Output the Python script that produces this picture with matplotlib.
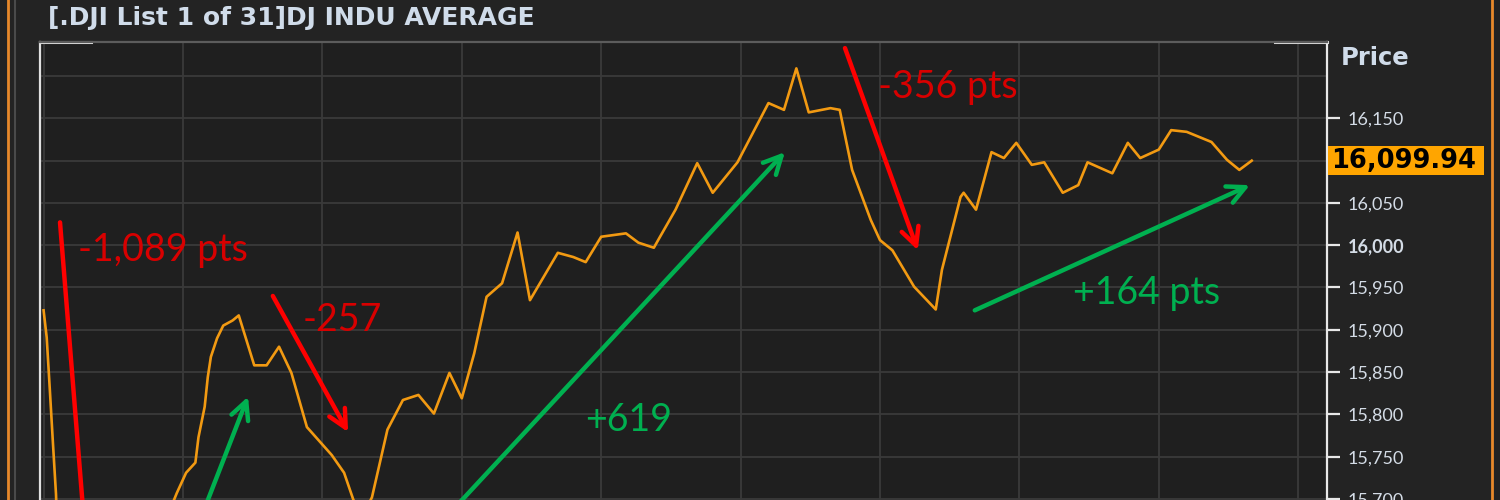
import numpy as np
import matplotlib.pyplot as plt
from matplotlib.patches import Rectangle
from matplotlib.transforms import blended_transform_factory

## minutes after the open (9:30) and index level
minutes = [0, 1, 2, 3, 4, 5, 6, 7, 8, 10, 13, 16, 20, 25, 30, 35, 40,
           43, 46, 49, 50, 52, 53, 54, 56, 58, 61, 63, 68, 72, 76, 80, 85,
           93, 97, 100, 103, 106, 111, 116, 121, 126, 131, 135, 139, 143,
           148, 153, 157, 166, 171, 175, 180, 188, 192, 197, 199, 204, 211,
           216, 224, 234, 239, 243, 247, 254, 257, 261, 267, 270, 274, 281,
           288, 290, 296, 297, 301, 306, 310, 314, 319, 323, 329, 334, 337,
           345, 350, 354, 360, 364, 369, 377, 382, 386, 390]
price = [15923, 15891, 15830, 15767, 15706, 15600, 15480, 15400, 15370,
         15420, 15470, 15440, 15520, 15560, 15600, 15640, 15680,
         15707, 15731, 15743, 15773, 15809, 15844, 15868, 15890, 15905,
         15911, 15917, 15858, 15858, 15880, 15849, 15785,
         15752, 15731, 15699, 15680, 15702, 15782, 15817, 15823, 15801,
         15849, 15819, 15872, 15939,
         15955, 16015, 15935, 15991, 15986, 15980, 16010, 16014, 16003,
         15997, 16010, 16042, 16097,
         16062, 16098, 16168, 16160, 16209, 16157, 16162, 16160, 16089,
         16030, 16006, 15994, 15951,
         15924, 15971, 16057, 16062, 16042, 16110, 16103, 16121, 16095,
         16098, 16062, 16071, 16098,
         16085, 16121, 16103, 16113, 16136, 16134, 16122, 16101, 16089,
         16099.94]
last_price = 16099.94

price_ticks = [15700, 15750, 15800, 15850, 15900, 15950, 16000, 16050,
               16100, 16150, 16200]
hidden_labels = [16100, 16200]
grid_minutes = [0, 45, 90, 135, 180, 225, 270, 315, 360, 405]

## move annotations: label, colour, arrow tail, arrow head, text anchor
moves = [
    ("-1,089 pts", 'red', (5.3, 16027), (15.6, 15557), (11.1, 15994)),
    ("", 'green', (50.5, 15675), (66.0, 15821), None),
    ("-257", 'red', (74.0, 15940), (98.3, 15779), (83.7, 15912)),
    ("+619", 'green', (126.0, 15663), (239.3, 16110), (174.7, 15793)),
    ("-356 pts", 'red', (258.7, 16233), (282.2, 15994), (269.3, 16187)),
    ("+164 pts", 'green', (300.6, 15923), (389.4, 16071), (332.3, 15944)),
]
arrow_colors = {'red': '#ff0000', 'green': '#00b050'}
text_colors = {'red': '#d80000', 'green': '#00b050'}

plt.rcParams['font.family'] = ['Lato', 'DejaVu Sans']
HEAD_FONT = ['DejaVu Sans']

W, H = 1500, 500
fig = plt.figure(figsize=(15, 5), dpi=100, facecolor='#232323')
ax = fig.add_axes([40 / W, 0, 1287 / W, 458 / H])
ax.set_facecolor('#1f1f1f')
ax.set_xlim(-1.16, 414.3)
ax.set_ylim(15698.8, 16240.2)

## grid
ax.set_xticks(grid_minutes)
ax.set_yticks(price_ticks)
ax.grid(True, color='#3a3a3a', lw=1.3)
ax.set_axisbelow(True)
ax.tick_params(axis='x', length=0, labelbottom=False)
ax.yaxis.tick_right()
ax.tick_params(axis='y', length=9, width=1.6, color='#e8e8e8', pad=6,
               labelsize=13, labelcolor='#d4dce6')
labels = []
for v in price_ticks:
    labels.append('' if v in hidden_labels else f'{v:,}')
ax.set_yticklabels(labels)
for tick, v in zip(ax.yaxis.get_major_ticks(), price_ticks):
    if v == 16200:
        tick.tick2line.set_visible(False)
    if v == 16000:
        tick.label2.set_fontweight('bold')

## frame
ax.spines['bottom'].set_visible(False)
ax.spines['left'].set_color('#e0e0e0')
ax.spines['right'].set_color('#e8e8e8')
ax.spines['left'].set_linewidth(1.6)
ax.spines['right'].set_linewidth(1.6)
ax.spines['top'].set_color('#5c5c5c')
ax.spines['top'].set_linewidth(1.6)
ax.plot([0, 51 / 1287], [1, 1], color='#e0e0e0', lw=2.2,
        transform=ax.transAxes, clip_on=False)
ax.plot([1 - 52 / 1287, 1], [1, 1], color='#e0e0e0', lw=2.2,
        transform=ax.transAxes, clip_on=False)

## price line
ax.plot(minutes, price, color='#f29a12', lw=1.9, zorder=3)

## arrows and move labels
for text, col, tail, head, anchor in moves:
    ax.annotate('', xy=head, xytext=tail, annotation_clip=False,
                arrowprops=dict(arrowstyle='->', color=arrow_colors[col],
                                lw=3.2, mutation_scale=32,
                                shrinkA=0, shrinkB=0), zorder=4)
    if anchor is not None:
        ax.text(anchor[0], anchor[1], text, color=text_colors[col],
                fontsize=27, ha='left', va='center', zorder=5)

## last price marker
blend = blended_transform_factory(fig.transFigure, ax.transData)
fig.patches.append(Rectangle((1328 / W, last_price - 17), 156 / W, 34,
                             transform=blend, fc='#ffa500', ec='none',
                             zorder=5))
fig.text(1331 / W, last_price, f'{last_price:,.2f}', transform=blend,
         color='black', fontsize=18.5, fontweight='bold', va='center',
         ha='left', zorder=6, family=HEAD_FONT)

## header texts
fig.text(48 / W, 1 - 18 / H, '[.DJI List 1 of 31]DJ INDU AVERAGE',
         color='#d0dcea', fontsize=18, fontweight='bold', va='center',
         family=HEAD_FONT)
fig.text(1341 / W, 1 - 58 / H, 'Price', color='#d0dcea', fontsize=17.5,
         fontweight='bold', va='center', family=HEAD_FONT)

## panel borders
fig.add_artist(plt.Line2D([7.5 / W, 7.5 / W], [0, 1], color='#e8892a', lw=2))
fig.add_artist(plt.Line2D([14.5 / W, 14.5 / W], [0, 1], color='#4a4a4a', lw=1.5))
fig.add_artist(plt.Line2D([1492 / W, 1492 / W], [0, 1], color='#e8892a', lw=2))

fig.savefig('out.png', dpi=100, facecolor=fig.get_facecolor())
